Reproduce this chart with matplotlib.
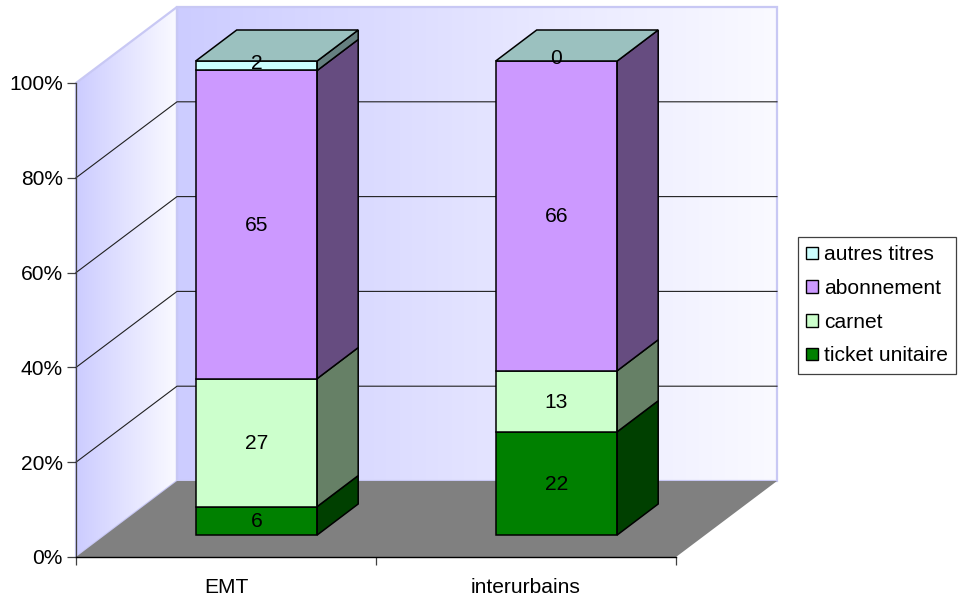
import numpy as np
import matplotlib
matplotlib.use("Agg")
import matplotlib.pyplot as plt
from matplotlib.patches import Patch, Polygon

plt.rcParams['font.family'] = ['Liberation Sans', 'DejaVu Sans']

categories = ["EMT", "interurbains"]
series = ["ticket unitaire", "carnet", "abonnement", "autres titres"]
ticket_unitaire = [6, 22]
carnet = [27, 13]
abonnement = [65, 66]
autres_titres = [2, 0]
yticks = [0, 20, 40, 60, 80, 100]

front_colors = ["#008000", "#CCFFCC", "#CC99FF", "#CCFFFF"]
side_colors = ["#004000", "#668066", "#664C80", "#668080"]
top_color = "#9BC1BF"
wall_edge = "#C8C8F4"
FONT = 15.1

# pseudo-3D layout, in axis units (one category wide, percent high)
PX_X, PX_Y = 300.0, 4.74
wall_dx, wall_dy = 101 / PX_X, 76 / PX_Y
bar_dx, bar_dy = 41 / PX_X, 31 / PX_Y
bar_left, bar_width = 0.399, 0.405
bar_base = 22 / PX_Y

fig = plt.figure(figsize=(9.58, 5.95), dpi=100)
ax = fig.add_axes([0, 0, 1, 1])
ax.patch.set_visible(False)
xlim = (-76 / PX_X, (958 - 76) / PX_X)
ylim = (-(595 - 557) / PX_Y, 557 / PX_Y)


def gradient_wall(corners, x0, x1, c0, c1):
    poly = Polygon(corners, closed=True, fc="none", ec=wall_edge, lw=1.6, zorder=1.1)
    ax.add_patch(poly)
    ramp = np.linspace(0, 1, 256)[:, None]
    rgb = np.array(matplotlib.colors.to_rgb(c0)) * (1 - ramp) + np.array(matplotlib.colors.to_rgb(c1)) * ramp
    im = ax.imshow(rgb[None, :, :], extent=(x0, x1, ylim[0], ylim[1]), aspect="auto", zorder=1)
    im.set_clip_path(poly)


# back wall and left wall
gradient_wall([(wall_dx, wall_dy), (2 + wall_dx, wall_dy), (2 + wall_dx, 100 + wall_dy), (wall_dx, 100 + wall_dy)],
              wall_dx, 2 + wall_dx, "#CCCCFF", "#FAFAFF")
gradient_wall([(0, 0), (wall_dx, wall_dy), (wall_dx, 100 + wall_dy), (0, 100)],
              0, wall_dx, "#CCCCFF", "#FAFAFF")

# floor
ax.add_patch(Polygon([(0, 0), (wall_dx, wall_dy), (2 + wall_dx, wall_dy), (2, 0)],
                     closed=True, fc="#808080", ec="none", zorder=1.5))

# gridlines along both walls, none at the very top
for t in yticks[1:-1]:
    ax.plot([0, wall_dx, 2 + wall_dx], [t, t + wall_dy, t + wall_dy], color="#202020", lw=0.8, zorder=2)

# stacked bars, normalised to 100%
stack = np.array([ticket_unitaire, carnet, abonnement, autres_titres], dtype=float)
shares = stack / stack.sum(axis=0) * 100

for i in range(len(categories)):
    x0 = i + bar_left
    x1 = x0 + bar_width
    bottom = bar_base
    for j in range(len(series)):
        h = shares[j, i]
        if stack[j, i] > 0:
            ax.add_patch(Polygon([(x0, bottom), (x1, bottom), (x1, bottom + h), (x0, bottom + h)],
                                 closed=True, fc=front_colors[j], ec="black", lw=1.1, zorder=3))
            ax.add_patch(Polygon([(x1, bottom), (x1 + bar_dx, bottom + bar_dy),
                                  (x1 + bar_dx, bottom + h + bar_dy), (x1, bottom + h)],
                                 closed=True, fc=side_colors[j], ec="black", lw=1.1, zorder=3))
        bottom += h
    ax.add_patch(Polygon([(x0, bottom), (x1, bottom), (x1 + bar_dx, bottom + bar_dy), (x0 + bar_dx, bottom + bar_dy)],
                         closed=True, fc=top_color, ec="black", lw=1.1, zorder=3))
    # value labels, thin segments sit a little higher
    bottom = bar_base
    for j in range(len(series)):
        h = shares[j, i]
        nudge = 0.5 if h < 5 else -0.2
        ax.text((x0 + x1) / 2, bottom + h / 2 + nudge, "%d" % stack[j, i], ha="center", va="center",
                fontsize=FONT, color="black", zorder=5)
        bottom += h

ax.set_xlim(xlim)
ax.set_ylim(ylim)

# axes
for s in ["top", "right"]:
    ax.spines[s].set_visible(False)
ax.spines["left"].set_position(("data", 0))
ax.spines["bottom"].set_position(("data", 0))
ax.spines["left"].set_bounds(0, 100)
ax.spines["bottom"].set_bounds(0, 2)
ax.spines["left"].set_color("#404040")
ax.spines["left"].set_linewidth(0.9)
ax.spines["bottom"].set_color("black")
ax.spines["bottom"].set_linewidth(1.0)
ax.spines["left"].set_zorder(2.5)
ax.spines["bottom"].set_zorder(2.5)
ax.set_yticks(yticks)
ax.set_yticklabels(["%d%%" % t for t in yticks], fontsize=FONT, color="black")
ax.set_xticks([0, 1, 2])
ax.set_xticklabels([])
ax.set_xticks([0.5, 1.5], minor=True)
ax.set_xticklabels(categories, minor=True, fontsize=FONT, color="black")
ax.tick_params(axis="y", length=6.5, width=0.9, color="#404040", pad=3)
ax.tick_params(axis="x", which="major", length=6, width=0.9, color="#404040")
ax.tick_params(axis="x", which="minor", length=0, pad=15)

# legend, top series first
handles = [Patch(fc=front_colors[j], ec="black", lw=1) for j in range(3, -1, -1)]
leg = ax.legend(handles, series[::-1], loc="upper left", bbox_to_anchor=(798 / 958, 1 - 237 / 595),
                fontsize=FONT, frameon=True, fancybox=False, framealpha=1, edgecolor="#404040",
                handlelength=0.55, handleheight=0.55, handletextpad=0.3, labelspacing=0.7,
                borderpad=0.4, borderaxespad=0)
leg.get_frame().set_linewidth(0.9)
leg.set_zorder(6)

fig.savefig("out.png", dpi=100)
